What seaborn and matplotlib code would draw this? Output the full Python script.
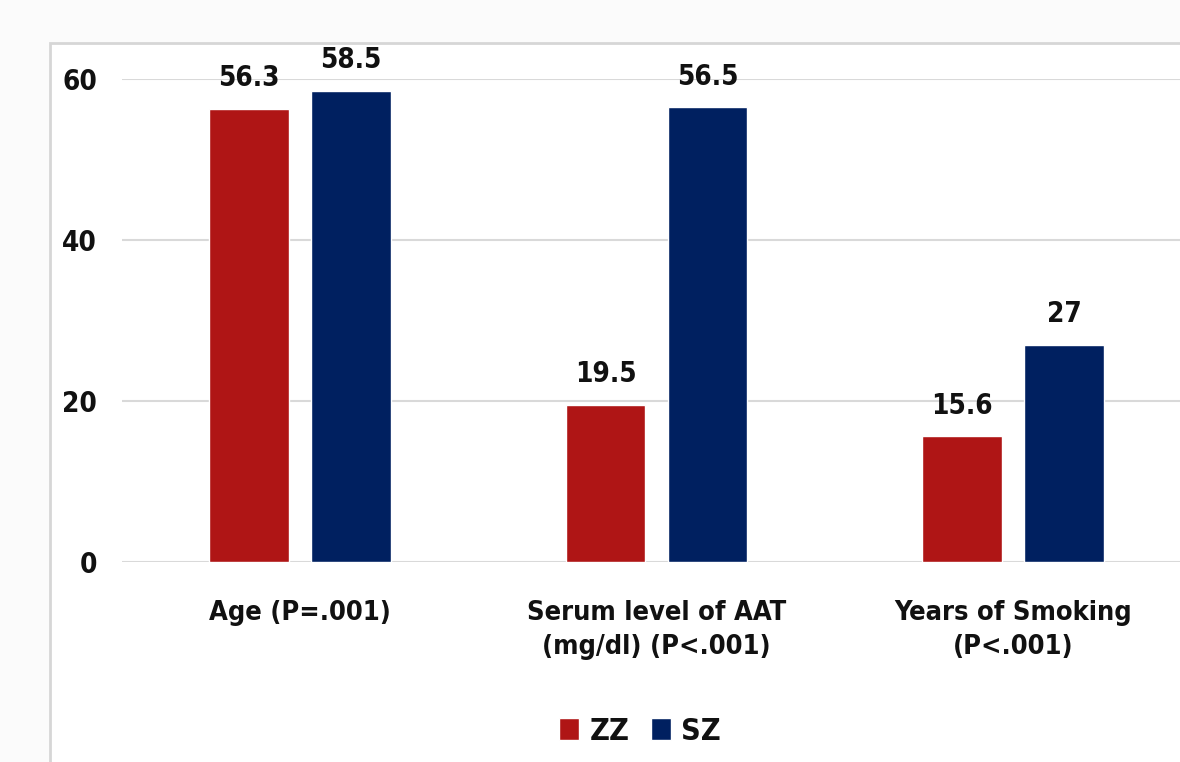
import matplotlib
matplotlib.use("Agg")
import matplotlib.pyplot as plt
import matplotlib.patches as mpatches
import pandas as pd
import seaborn as sns

# valeurs
categories = ["Age (P=.001)", "Serum level of AAT\n(mg/dl) (P<.001)", "Years of Smoking\n(P<.001)"]
groups = ["ZZ", "SZ"]
zz_values = [56.3, 19.5, 15.6]
sz_values = [58.5, 56.5, 27]
zz_labels = ["56.3", "19.5", "15.6"]
sz_labels = ["58.5", "56.5", "27"]
y_ticks = [0, 20, 40, 60]

colors = {"ZZ": "#AF1515", "SZ": "#002060"}

df = pd.DataFrame({
    "category": categories * 2,
    "group": ["ZZ"] * 3 + ["SZ"] * 3,
    "value": zz_values + sz_values,
})

sns.set_style("white")
plt.rcParams["font.family"] = ["DejaVu Sans"]
plt.rcParams["font.stretch"] = "condensed"
plt.rcParams["font.weight"] = "bold"
plt.rcParams["text.color"] = "#111111"
plt.rcParams["xtick.color"] = "#111111"
plt.rcParams["ytick.color"] = "#111111"

fig = plt.figure(figsize=(11.8, 7.62), dpi=100, facecolor="#fbfbfb")
# panneau blanc avec bordure grise
panel = mpatches.Rectangle((50 / 1180, -0.01), 1.0, 1 - 43 / 762 + 0.01, transform=fig.transFigure,
                           facecolor="white", edgecolor="#d6d6d6", linewidth=2, zorder=-5)
fig.patches.append(panel)

ax = fig.add_axes([122 / 1180, 1 - 562 / 762, 1069 / 1180, (562 - 79) / 762])
ax.set_facecolor("none")
ax.set_zorder(2)

sns.barplot(data=df, x="category", y="value", hue="group", hue_order=groups,
            palette=colors, width=0.573, gap=0.22, saturation=1, ax=ax, legend=False)

for cont, labs in zip(ax.containers, [zz_labels, sz_labels]):
    ax.bar_label(cont, labels=labs, padding=12, fontsize=20, fontweight="bold", color="#111111")

ax.set_xlim(-0.5, 2.5)
ax.set_ylim(0, 60)
ax.set_yticks(y_ticks)
ax.yaxis.grid(True, color="#d9d9d9", linewidth=1.5)
ax.set_axisbelow(True)
for s in ax.spines.values():
    s.set_visible(False)
ax.tick_params(axis="y", length=0, pad=18, labelsize=20)
ax.tick_params(axis="x", length=0, pad=27, labelsize=19.5)
for t in ax.get_xticklabels():
    t.set_linespacing(1.45)
ax.set_xlabel("")
ax.set_ylabel("")

handles = [mpatches.Patch(facecolor=colors[g], label=g) for g in groups]
fig.legend(handles=handles, loc="center", bbox_to_anchor=(640 / 1180, 1 - 731 / 762), ncol=2,
           frameon=False, handlelength=0.65, handleheight=0.75, handletextpad=0.35,
           columnspacing=0.7, prop={"weight": "bold", "size": 22, "stretch": "condensed"})

fig.savefig("out.png", dpi=100, facecolor=fig.get_facecolor())
